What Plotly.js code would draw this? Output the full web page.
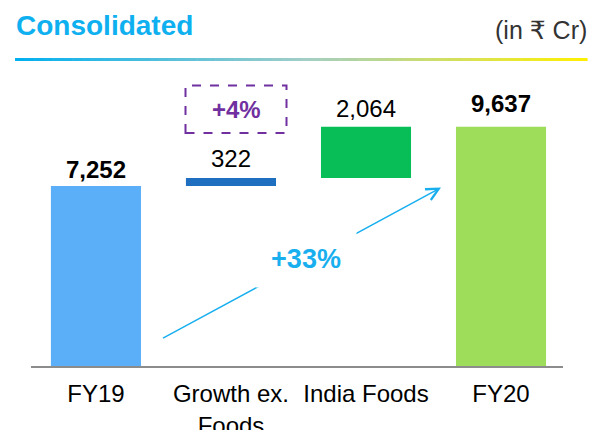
<!DOCTYPE html>
<html>
<head>
<meta charset="utf-8">
<script src="https://cdn.plot.ly/plotly-3.0.1.min.js"></script>
<style>html,body{margin:0;padding:0;background:#fff;}#chart{width:590px;height:430px;}</style>
</head>
<body>
<div id="chart"></div>
<script>
// ---- data ----
const categories = ["FY19", "Growth ex.<br>Foods", "India Foods", "FY20"];
const values = [7252, 322, 2064, 9637];
const measures = ["absolute", "relative", "relative", "total"];
const valueLabels = ["7,252", "322", "2,064", "9,637"];
const colors = ["#5BAFF8", "#1F6FC0", "#07BE57", "#9EDD5A"];
const growthLabel = "+4%";
const totalGrowthLabel = "+33%";

// ---- compute bases (waterfall style) ----
const bases = [];
const tops = [];
let running = 0;
for (let i = 0; i < values.length; i++) {
  if (measures[i] === "relative") {
    bases.push(running);
    running += values[i];
  } else {
    bases.push(0);
    running = values[i];
  }
  tops.push(bases[i] + values[i]);
}

const FONT = '"Liberation Sans", Arial, "DejaVu Sans", sans-serif';

const trace = {
  type: "bar",
  x: categories,
  y: values,
  base: bases,
  width: 0.667,
  marker: { color: colors, line: { width: 0 } },
  hoverinfo: "skip"
};

// label offsets (px) above the bar tops
const labelShift = [16, 19, 18, 23];
const annotations = [];
for (let i = 0; i < values.length; i++) {
  const bold = measures[i] !== "relative";
  annotations.push({
    x: categories[i], y: tops[i], xref: "x", yref: "y",
    text: bold ? "<b>" + valueLabels[i] + "</b>" : valueLabels[i],
    showarrow: false, yanchor: "middle", yshift: labelShift[i],
    font: { family: FONT, size: 24, color: "#000000" }
  });
}

// helpers: pixel -> paper
const L = 31, R = 563, T = 70, B = 366;
const px = v => (v - L) / (R - L);
const py = v => (B - v) / (B - T);

// growth arrow
annotations.push({
  xref: "paper", yref: "paper",
  x: px(441), y: py(187.5),
  ax: 161.5 - 441, ay: 339 - 187.5,
  axref: "pixel", ayref: "pixel",
  text: "", showarrow: true,
  arrowhead: 5, arrowsize: 1.6, arrowwidth: 1.5,
  arrowcolor: "#19AFEF", standoff: 0
});
annotations.push({
  xref: "paper", yref: "paper",
  x: px(306), y: py(259),
  text: "<b>" + totalGrowthLabel + "</b>",
  showarrow: false, bgcolor: "#ffffff",
  width: 98, height: 54, xanchor: "center", yanchor: "middle",
  font: { family: FONT, size: 27, color: "#19AFEF" }
});
// +4% label
annotations.push({
  xref: "paper", yref: "paper",
  x: px(236), y: py(110),
  text: "<b>" + growthLabel + "</b>",
  showarrow: false, xanchor: "center", yanchor: "middle",
  font: { family: FONT, size: 24, color: "#7030A0" }
});
// titles
annotations.push({
  xref: "paper", yref: "paper",
  x: px(14), y: py(26), xanchor: "left", yanchor: "middle",
  text: "<b>Consolidated</b>", showarrow: false,
  font: { family: FONT, size: 28, color: "#0FB0F0" }
});
annotations.push({
  xref: "paper", yref: "paper",
  x: px(589), y: py(30), xanchor: "right", yanchor: "middle",
  text: "(in ₹ Cr)", showarrow: false,
  font: { family: FONT, size: 25, color: "#333333" }
});

// shapes: dashed box + gradient rule
const shapes = [{
  type: "rect", xref: "paper", yref: "paper",
  x0: px(185.5), x1: px(286.5), y0: py(133), y1: py(85.5),
  line: { color: "#7030A0", width: 2, dash: "dash" },
  fillcolor: "rgba(0,0,0,0)"
}];
const gStart = [0, 176, 240], gMid = [160, 205, 200], gEnd = [255, 240, 0];
const nSeg = 60, x0 = 15, x1 = 587;
for (let i = 0; i < nSeg; i++) {
  const t = (i + 0.5) / nSeg;
  let c;
  if (t < 0.5) {
    const u = t / 0.5;
    c = gStart.map((s, k) => Math.round(s + (gMid[k] - s) * u));
  } else {
    const u = (t - 0.5) / 0.5;
    c = gMid.map((s, k) => Math.round(s + (gEnd[k] - s) * u));
  }
  shapes.push({
    type: "line", xref: "paper", yref: "paper",
    x0: px(x0 + (x1 - x0) * i / nSeg), x1: px(x0 + (x1 - x0) * (i + 1) / nSeg + 0.6),
    y0: py(59.5), y1: py(59.5),
    line: { color: "rgb(" + c.join(",") + ")", width: 3 }
  });
}

const layout = {
  width: 590, height: 430,
  margin: { l: L, r: 590 - R, t: T, b: 430 - B },
  paper_bgcolor: "#ffffff", plot_bgcolor: "#ffffff",
  showlegend: false,
  font: { family: FONT },
  xaxis: {
    type: "category",
    range: [-0.481, 3.459],
    showline: true, linecolor: "#8C8C8C", linewidth: 1.5,
    showgrid: false, zeroline: false, ticks: "",
    tickfont: { family: FONT, size: 24, color: "#000000" },
    ticklabelstandoff: 6,
    fixedrange: true
  },
  yaxis: {
    range: [0, 11920],
    visible: false, showgrid: false, zeroline: false, fixedrange: true
  },
  annotations: annotations,
  shapes: shapes
};

Plotly.newPlot("chart", [trace], layout, { displayModeBar: false, staticPlot: true });
</script>
</body>
</html>
